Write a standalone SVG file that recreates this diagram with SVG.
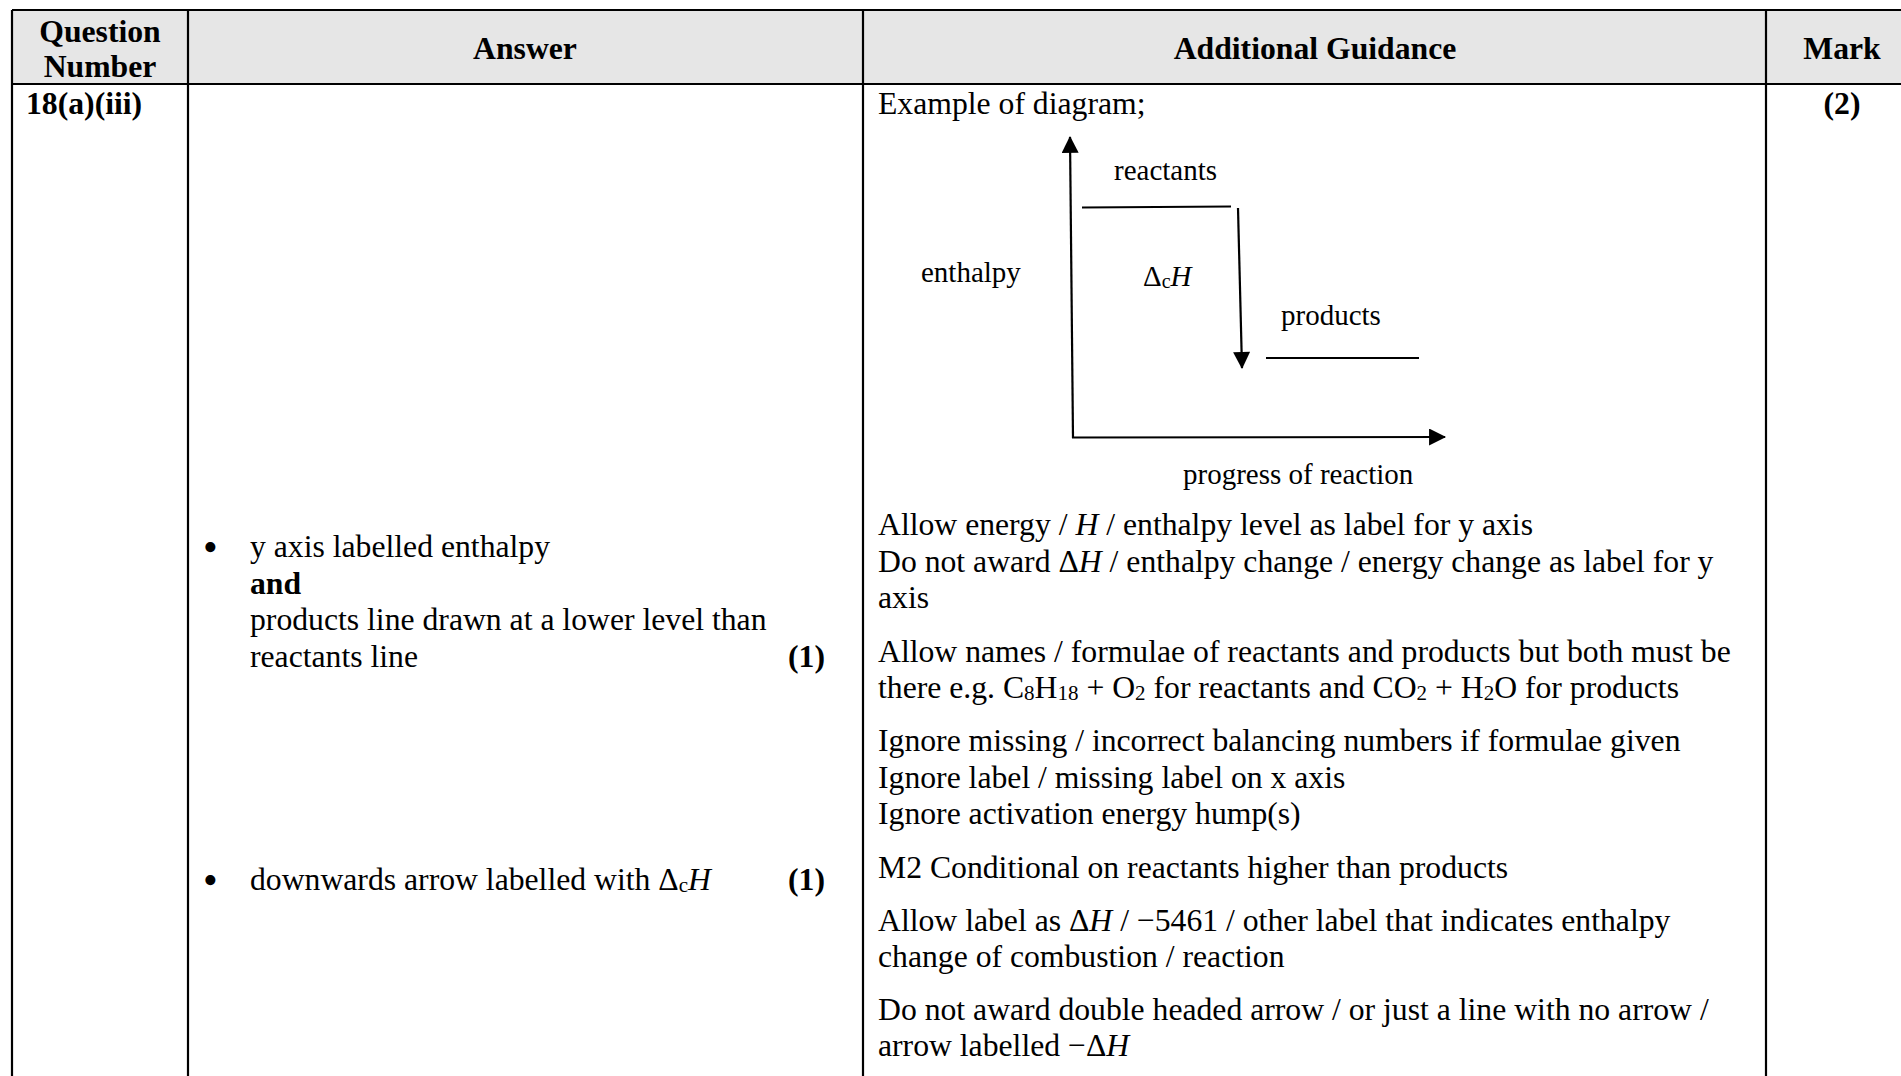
<svg xmlns="http://www.w3.org/2000/svg" width="1901" height="1076" viewBox="0 0 1901 1076">
<defs>
<style>
text{font-family:"Liberation Serif","Times New Roman",serif;fill:#000}
.t{font-size:31.7px}
.b{font-weight:bold}
.h{font-size:31.7px;font-weight:bold;text-anchor:middle}
.d{font-size:29px}
.i{font-style:italic}
.bul{font-size:42px}
.grid{stroke:#000;stroke-width:2.2;fill:none}
.ln{stroke:#000;stroke-width:2.2;fill:none}
</style>
<marker id="ah" viewBox="0 0 16 16" refX="15" refY="8" markerWidth="18" markerHeight="17" markerUnits="userSpaceOnUse" orient="auto">
<path d="M0,0 L16,8 L0,16 z" fill="#000"/>
</marker>
</defs>
<rect width="1901" height="1076" fill="#fff"/>
<g id="table">
<rect x="12" y="10" width="1906" height="74" fill="#e6e6e6"/>
<path class="grid" d="M12,10 H1918 M12,84 H1918 M12,10 V1080 M188,10 V1080 M863,10 V1080 M1766,10 V1080"/>
</g>
<g id="header">
<text class="h" x="100" y="42">Question</text>
<text class="h" x="100" y="77">Number</text>
<text class="h" x="525" y="59">Answer</text>
<text class="h" x="1315" y="59">Additional Guidance</text>
<text class="h" x="1842" y="59">Mark</text>
</g>
<g id="question">
<text class="t b" x="26" y="114">18(a)(iii)</text>
</g>
<g id="answer">
<text class="bul" x="203" y="561">•</text>
<text class="t" x="250" y="557">y axis labelled enthalpy</text>
<text class="t b" x="250" y="593.5">and</text>
<text class="t" x="250" y="630">products line drawn at a lower level than</text>
<text class="t" x="250" y="666.5">reactants line</text>
<text class="t b" x="825" y="666.5" text-anchor="end">(1)</text>
<text class="bul" x="203" y="894">•</text>
<text class="t" x="250" y="890">downwards arrow labelled with Δ<tspan font-size="21" dy="2">c</tspan><tspan class="i" dy="-2">H</tspan></text>
<text class="t b" x="825" y="890" text-anchor="end">(1)</text>
</g>
<g id="mark">
<text class="h" x="1842" y="114">(2)</text>
</g>
<g id="guidance">
<text class="t" x="878" y="114">Example of diagram;</text>
<text class="t" x="878" y="535">Allow energy / <tspan class="i">H</tspan> / enthalpy level as label for y axis</text>
<text class="t" x="878" y="571.5">Do not award Δ<tspan class="i">H</tspan> / enthalpy change / energy change as label for y</text>
<text class="t" x="878" y="608">axis</text>
<text class="t" x="878" y="661.5">Allow names / formulae of reactants and products but both must be</text>
<text class="t" x="878" y="698">there e.g. C<tspan font-size="21" dy="2">8</tspan><tspan dy="-2">H</tspan><tspan font-size="21" dy="2">18</tspan><tspan dy="-2"> + O</tspan><tspan font-size="21" dy="2">2</tspan><tspan dy="-2"> for reactants and CO</tspan><tspan font-size="21" dy="2">2</tspan><tspan dy="-2"> + H</tspan><tspan font-size="21" dy="2">2</tspan><tspan dy="-2">O for products</tspan></text>
<text class="t" x="878" y="751">Ignore missing / incorrect balancing numbers if formulae given</text>
<text class="t" x="878" y="787.5">Ignore label / missing label on x axis</text>
<text class="t" x="878" y="824">Ignore activation energy hump(s)</text>
<text class="t" x="878" y="877.5">M2 Conditional on reactants higher than products</text>
<text class="t" x="878" y="930.5">Allow label as Δ<tspan class="i">H</tspan> / −5461 / other label that indicates enthalpy</text>
<text class="t" x="878" y="967">change of combustion / reaction</text>
<text class="t" x="878" y="1019.5">Do not award double headed arrow / or just a line with no arrow /</text>
<text class="t" x="878" y="1056">arrow labelled −Δ<tspan class="i">H</tspan></text>
</g>
<g id="diagram">
<g id="labels">
<text class="d" x="1114" y="180">reactants</text>
<text class="d" x="921" y="282">enthalpy</text>
<text class="d" x="1143" y="286">Δ<tspan font-size="20" dy="2">c</tspan><tspan class="i" dy="-2">H</tspan></text>
<text class="d" x="1281" y="325">products</text>
<text class="d" x="1183" y="484">progress of reaction</text>
</g>
<g id="connectors">
<line class="ln" x1="1073" y1="438" x2="1070" y2="137" marker-end="url(#ah)"/>
<line class="ln" x1="1072" y1="437.5" x2="1445" y2="437" marker-end="url(#ah)"/>
<line class="ln" x1="1082" y1="207.5" x2="1231" y2="206.5"/>
<line class="ln" x1="1238" y1="208" x2="1242" y2="368" marker-end="url(#ah)"/>
<line class="ln" x1="1266" y1="358" x2="1419" y2="358"/>
</g>
</g>
</svg>
